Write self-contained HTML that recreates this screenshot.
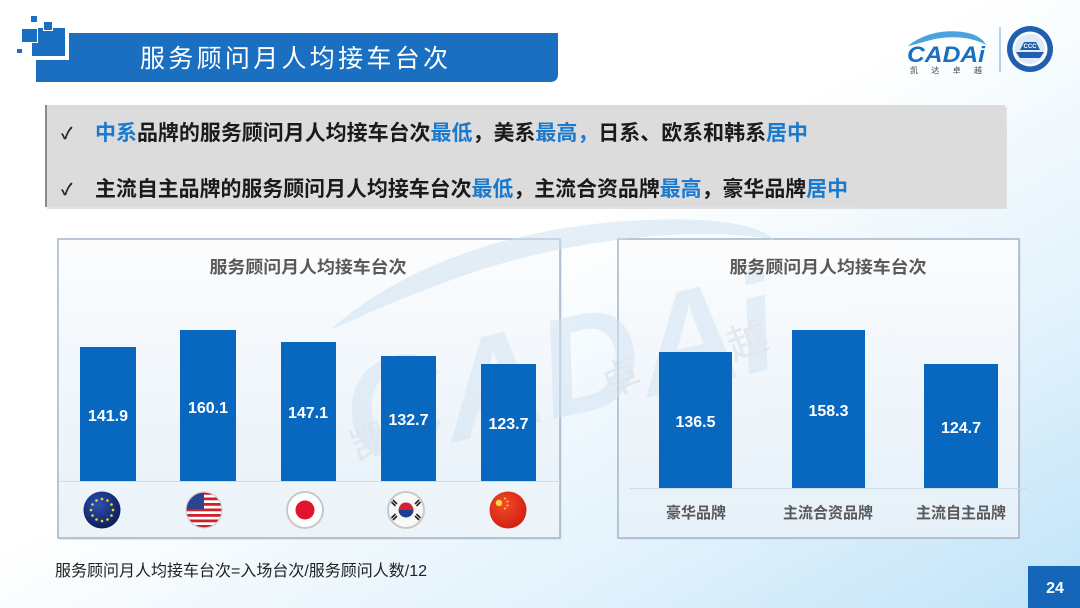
<!DOCTYPE html>
<html><head><meta charset="utf-8">
<style>
html,body{margin:0;padding:0;background:#fff;}
svg{display:block;}
text{font-family:"Liberation Sans","Noto Sans CJK SC",sans-serif;}
</style></head>
<body>
<svg width="1080" height="608" viewBox="0 0 1080 608" xmlns="http://www.w3.org/2000/svg">
<defs>
  <linearGradient id="bg" x1="0" y1="0" x2="1" y2="1">
    <stop offset="0" stop-color="#ffffff"/>
    <stop offset="0.45" stop-color="#ffffff"/>
    <stop offset="0.75" stop-color="#e2f2fc"/>
    <stop offset="1" stop-color="#bfe3f8"/>
  </linearGradient>
  <linearGradient id="boxg" x1="0" y1="0" x2="0" y2="1">
    <stop offset="0" stop-color="#ffffff" stop-opacity="0.9"/>
    <stop offset="1" stop-color="#e8f3fb" stop-opacity="0.8"/>
  </linearGradient>
  <radialGradient id="eu" cx="0.4" cy="0.35" r="0.7">
    <stop offset="0" stop-color="#2d52b0"/>
    <stop offset="1" stop-color="#0a1a55"/>
  </radialGradient>
  <radialGradient id="cn" cx="0.4" cy="0.35" r="0.7">
    <stop offset="0" stop-color="#f24a2a"/>
    <stop offset="1" stop-color="#d01d10"/>
  </radialGradient>
  <clipPath id="usclip"><circle cx="204" cy="510" r="18"/></clipPath>
</defs>

<!-- background -->
<rect width="1080" height="608" fill="url(#bg)"/>

<!-- title bar -->
<path d="M36 33 H558 V74 Q558 82 550 82 H36 Z" fill="#1a6fc0"/>
<rect x="29" y="25" width="40" height="35" fill="#ffffff"/>
<rect x="32" y="28" width="33" height="28" fill="#1a6fc0"/>
<rect x="21" y="28" width="17" height="15" fill="#ffffff"/>
<rect x="22" y="29" width="15" height="13" fill="#1a6fc0"/>
<rect x="43" y="21" width="10" height="10" fill="#ffffff"/>
<rect x="44" y="22" width="8" height="8" fill="#1a6fc0"/>
<rect x="31" y="16" width="6" height="6" fill="#1a6fc0"/>
<rect x="17" y="49" width="5" height="4" fill="#1a6fc0"/>
<text x="140" y="67" font-size="25" fill="#ffffff" textLength="308" lengthAdjust="spacing">服务顾问月人均接车台次</text>

<!-- logo -->
<path d="M908 46 C925 32 950 28 972 34 C980 37 984 41 986 45 C975 38 955 35 935 39 C922 42 914 45 908 46 Z" fill="#4aa3de"/>
<text x="907" y="62" font-size="22" font-weight="bold" font-style="italic" fill="#1a6fc0" textLength="78" lengthAdjust="spacingAndGlyphs">CADAi</text>
<text x="910" y="73" font-size="8" fill="#444" textLength="72" lengthAdjust="spacing">凯 达 卓 越</text>
<line x1="1000" y1="27" x2="1000" y2="72" stroke="#9cc4e4" stroke-width="1.5"/>
<circle cx="1030" cy="49" r="23" fill="#1f5fae"/>
<circle cx="1030" cy="49" r="17.5" fill="#ffffff"/>
<circle cx="1030" cy="49" r="15" fill="#dcebf7"/>
<path d="M1016 52 L1044 52 L1040 58 L1020 58 Z" fill="#1f5fae"/>
<path d="M1020 50 L1024 42 L1036 42 L1040 50 Z" fill="#1f5fae"/>
<text x="1030" y="48" font-size="6" font-weight="bold" fill="#ffffff" text-anchor="middle">CCC</text>

<!-- bullet box -->
<rect x="47" y="107" width="960" height="102" fill="#cfcfcf" opacity="0.6"/>
<rect x="45" y="105" width="960" height="102" fill="#dcdcdc"/>
<rect x="45" y="105" width="2" height="102" fill="#8a8a8a"/>
<text x="61" y="139" font-size="16" font-weight="bold" fill="#222">✓</text>
<text x="61" y="195" font-size="16" font-weight="bold" fill="#222">✓</text>
<text x="95" y="140" font-size="21" font-weight="bold" fill="#1a1a1a" textLength="713" lengthAdjust="spacingAndGlyphs"><tspan fill="#1a7ad0">中系</tspan>品牌的服务顾问月人均接车台次<tspan fill="#1a7ad0">最低</tspan>，美系<tspan fill="#1a7ad0">最高，</tspan>日系、欧系和韩系<tspan fill="#1a7ad0">居中</tspan></text>
<text x="95" y="196" font-size="21" font-weight="bold" fill="#1a1a1a" textLength="753" lengthAdjust="spacingAndGlyphs">主流自主品牌的服务顾问月人均接车台次<tspan fill="#1a7ad0">最低</tspan>，主流合资品牌<tspan fill="#1a7ad0">最高</tspan>，豪华品牌<tspan fill="#1a7ad0">居中</tspan></text>

<!-- chart boxes -->
<rect x="60" y="241" width="502" height="299" fill="#d6e0ea" opacity="0.7"/>
<rect x="58" y="239" width="502" height="299" fill="url(#boxg)" stroke="#a3b4c6" stroke-width="1.5"/>
<rect x="59" y="482" width="500" height="55" fill="#eef5fa" opacity="0.7"/>
<rect x="620" y="241" width="401" height="299" fill="#d6e0ea" opacity="0.7"/>
<rect x="618" y="239" width="401" height="299" fill="url(#boxg)" stroke="#a3b4c6" stroke-width="1.5"/>

<!-- watermark -->
<g opacity="0.55">
  <path d="M330 330 C420 250 560 215 700 220 C740 222 765 230 775 240 C720 228 600 232 480 270 C420 290 370 312 330 330 Z" fill="#cfe2f2"/>
  <text x="330" y="420" font-size="140" font-weight="bold" font-style="italic" fill="#d3e4f3" transform="rotate(-13 540 330)" textLength="440" lengthAdjust="spacingAndGlyphs">CADAi</text>
  <text x="350" y="455" font-size="40" fill="#d5dbe1" transform="rotate(-20 370 440)">凯</text>
  <text x="480" y="422" font-size="40" fill="#d5dbe1" transform="rotate(-20 500 407)">达</text>
  <text x="600" y="392" font-size="40" fill="#d5dbe1" transform="rotate(-20 620 377)">卓</text>
  <text x="727" y="355" font-size="40" fill="#d5dbe1" transform="rotate(-20 747 340)">越</text>
</g>

<!-- left chart -->
<text x="308" y="273" font-size="17" font-weight="bold" fill="#595959" text-anchor="middle" textLength="197" lengthAdjust="spacingAndGlyphs">服务顾问月人均接车台次</text>
<line x1="59" y1="481.5" x2="560" y2="481.5" stroke="#cfdbe6" stroke-width="1"/>
<g fill="#0867bf">
  <rect x="80" y="347" width="56" height="134"/>
  <rect x="180" y="330" width="56" height="151"/>
  <rect x="281" y="342" width="55" height="139"/>
  <rect x="381" y="356" width="55" height="125"/>
  <rect x="481" y="364" width="55" height="117"/>
</g>
<g font-size="16" font-weight="bold" fill="#ffffff" text-anchor="middle">
  <text x="108" y="421">141.9</text>
  <text x="208" y="413">160.1</text>
  <text x="308" y="418">147.1</text>
  <text x="408.5" y="425">132.7</text>
  <text x="508.5" y="429">123.7</text>
</g>

<!-- flags -->
<circle cx="102" cy="510" r="18.5" fill="url(#eu)"/>
<g fill="#f4d23a">
  <circle cx="102" cy="499" r="1.3"/><circle cx="107.5" cy="500.5" r="1.3"/><circle cx="111.5" cy="504.5" r="1.3"/>
  <circle cx="113" cy="510" r="1.3"/><circle cx="111.5" cy="515.5" r="1.3"/><circle cx="107.5" cy="519.5" r="1.3"/>
  <circle cx="102" cy="521" r="1.3"/><circle cx="96.5" cy="519.5" r="1.3"/><circle cx="92.5" cy="515.5" r="1.3"/>
  <circle cx="91" cy="510" r="1.3"/><circle cx="92.5" cy="504.5" r="1.3"/><circle cx="96.5" cy="500.5" r="1.3"/>
</g>
<g clip-path="url(#usclip)">
  <rect x="186" y="492" width="36" height="36" fill="#ffffff"/>
  <g fill="#cc2230">
    <rect x="186" y="492" width="36" height="2.8"/><rect x="186" y="497.5" width="36" height="2.8"/>
    <rect x="186" y="503" width="36" height="2.8"/><rect x="186" y="508.5" width="36" height="2.8"/>
    <rect x="186" y="514" width="36" height="2.8"/><rect x="186" y="519.5" width="36" height="2.8"/>
    <rect x="186" y="525" width="36" height="2.8"/>
  </g>
  <rect x="186" y="492" width="18" height="17" fill="#2c4490"/>
</g>
<circle cx="204" cy="510" r="18" fill="none" stroke="#d0d0d0" stroke-width="1.2"/>
<circle cx="305" cy="510" r="18" fill="#ffffff" stroke="#c8c8c8" stroke-width="2"/>
<circle cx="305" cy="510" r="9.5" fill="#e0142c"/>
<circle cx="406" cy="510" r="18" fill="#f8f8f8" stroke="#c8c8c8" stroke-width="2"/>
<path d="M398.5 510 A7.5 7.5 0 0 1 413.5 510 Z" fill="#d42030"/>
<path d="M398.5 510 A7.5 7.5 0 0 0 413.5 510 Z" fill="#1c3f94"/>
<g stroke="#222" stroke-width="1.6">
  <line x1="393" y1="500" x2="397" y2="504"/><line x1="391.5" y1="502" x2="395.5" y2="506"/>
  <line x1="419" y1="500" x2="415" y2="504"/><line x1="420.5" y1="502" x2="416.5" y2="506"/>
  <line x1="393" y1="520" x2="397" y2="516"/><line x1="391.5" y1="518" x2="395.5" y2="514"/>
  <line x1="419" y1="520" x2="415" y2="516"/><line x1="420.5" y1="518" x2="416.5" y2="514"/>
</g>
<circle cx="508" cy="510" r="18.5" fill="url(#cn)"/>
<g fill="#ffd83a">
  <circle cx="499" cy="503" r="3.2"/>
  <circle cx="505" cy="498.5" r="1"/><circle cx="507.5" cy="501.5" r="1"/>
  <circle cx="507.5" cy="505.5" r="1"/><circle cx="505" cy="508.5" r="1"/>
</g>

<!-- right chart -->
<text x="828" y="273" font-size="17" font-weight="bold" fill="#595959" text-anchor="middle" textLength="197" lengthAdjust="spacingAndGlyphs">服务顾问月人均接车台次</text>
<line x1="630" y1="488.5" x2="1027" y2="488.5" stroke="#cfdbe6" stroke-width="1"/>
<g fill="#0867bf">
  <rect x="659" y="352" width="73" height="136"/>
  <rect x="792" y="330" width="73" height="158"/>
  <rect x="924" y="364" width="74" height="124"/>
</g>
<g font-size="16" font-weight="bold" fill="#ffffff" text-anchor="middle">
  <text x="695.5" y="427">136.5</text>
  <text x="828.5" y="416">158.3</text>
  <text x="961" y="433">124.7</text>
</g>
<g font-size="15.5" font-weight="bold" fill="#595959" text-anchor="middle">
  <text x="696" y="518" textLength="60" lengthAdjust="spacingAndGlyphs">豪华品牌</text>
  <text x="828" y="518" textLength="90" lengthAdjust="spacingAndGlyphs">主流合资品牌</text>
  <text x="961" y="518" textLength="90" lengthAdjust="spacingAndGlyphs">主流自主品牌</text>
</g>

<!-- footnote -->
<text x="55" y="576" font-size="16" fill="#222" textLength="372" lengthAdjust="spacingAndGlyphs">服务顾问月人均接车台次=入场台次/服务顾问人数/12</text>

<!-- page number -->
<rect x="1028" y="566" width="52" height="42" fill="#1565b8"/>
<text x="1055" y="593" font-size="16" font-weight="bold" fill="#ffffff" text-anchor="middle">24</text>
</svg>
</body></html>
